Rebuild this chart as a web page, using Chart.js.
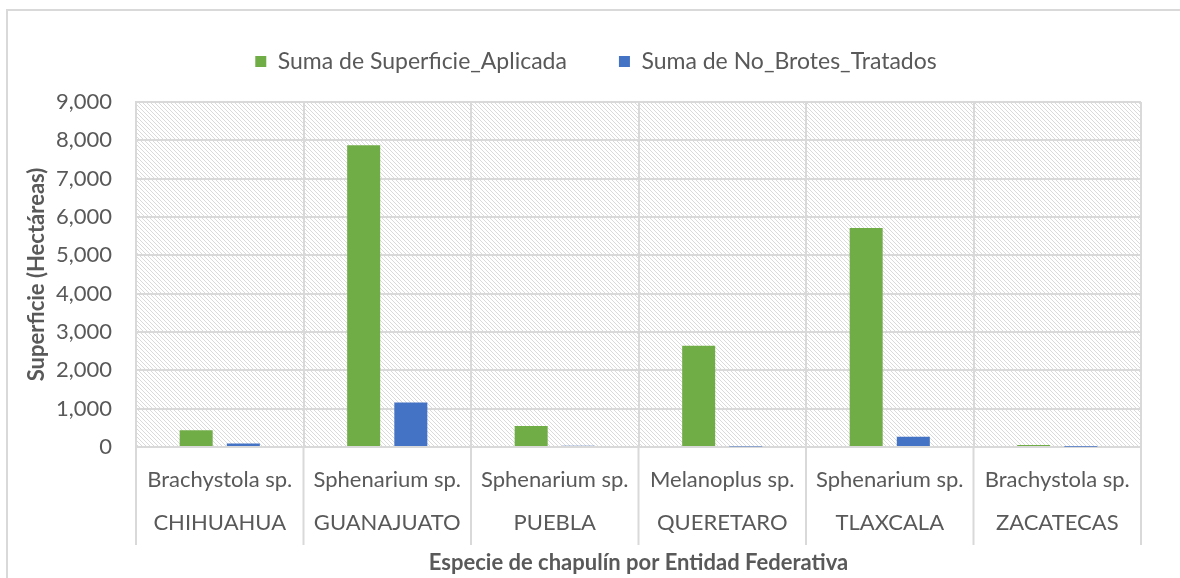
<!DOCTYPE html>
<html lang="es">
<head>
  <meta charset="UTF-8">
  <title>Superficie por Entidad Federativa</title>
  <script src="https://cdn.jsdelivr.net/npm/chart.js"></script>
  <style>
    body { margin: 0; background: #fff; }
    #wrap { width: 1180px; height: 578px; }
  </style>
</head>
<body>
  <div id="wrap"><canvas id="grafico" width="1180" height="578"></canvas></div>

  <script>
    // datos
    const entidades = ['CHIHUAHUA', 'GUANAJUATO', 'PUEBLA', 'QUERETARO', 'TLAXCALA', 'ZACATECAS'];
    const especies = ['Brachystola sp.', 'Sphenarium sp.', 'Sphenarium sp.', 'Melanoplus sp.', 'Sphenarium sp.', 'Brachystola sp.'];
    const superficieAplicada = [440, 7870, 545, 2640, 5715, 55];
    const brotesTratados = [90, 1160, 35, 12, 265, 6];
    const yTicks = [0, 1000, 2000, 3000, 4000, 5000, 6000, 7000, 8000, 9000];

    const FUENTE = 'Lato, "Open Sans", sans-serif';
    const GRIS = '#d9d9d9';
    const TEXTO = '#595959';

    // trama diagonal del fondo
    function crearTrama() {
      const c = document.createElement('canvas');
      c.width = 4; c.height = 4;
      const g = c.getContext('2d');
      g.fillStyle = '#fff';
      g.fillRect(0, 0, 4, 4);
      g.fillStyle = '#dadada';
      for (let i = 0; i < 4; i++) g.fillRect(i, i, 1, 1);
      return g.createPattern(c, 'repeat');
    }

    const fondo = {
      id: 'fondo',
      beforeInit(chart) {
        // ajuste del alto de la leyenda
        const fitOriginal = chart.legend.fit;
        chart.legend.fit = function () {
          fitOriginal.call(this);
          this.height += 19;
        };
      },
      afterLayout(chart) {
        // la leyenda va centrada en todo el recuadro, no en el area de trazado
        chart.legend.left += 18;
        chart.legend.right += 18;
      },
      beforeDraw(chart) {
        const { ctx, chartArea: a } = chart;
        ctx.save();
        ctx.strokeStyle = GRIS;
        ctx.lineWidth = 2;
        ctx.strokeRect(7, 10, 1300, 700);
        ctx.fillStyle = crearTrama();
        ctx.fillRect(a.left, a.top, a.right - a.left, a.bottom - a.top);
        ctx.restore();
      },
      afterDraw(chart) {
        // separadores de categorias bajo el eje
        const { ctx, chartArea: a } = chart;
        const x = chart.scales.x;
        const paso = x.getPixelForTick(1) - x.getPixelForTick(0);
        ctx.save();
        ctx.strokeStyle = GRIS;
        ctx.lineWidth = 2;
        for (let i = 0; i <= entidades.length; i++) {
          const px = i < entidades.length ? x.getPixelForTick(i) - paso / 2 : a.right;
          ctx.beginPath();
          ctx.moveTo(px, a.bottom);
          ctx.lineTo(px, a.bottom + 98);
          ctx.stroke();
        }
        ctx.restore();
      }
    };

    const ctx = document.getElementById('grafico').getContext('2d');
    new Chart(ctx, {
      type: 'bar',
      data: {
        labels: entidades.map((e, i) => [especies[i], e]),
        datasets: [
          {
            label: 'Suma de Superficie_Aplicada',
            data: superficieAplicada,
            backgroundColor: '#70ad47',
            categoryPercentage: 0.563,
            barPercentage: 0.7
          },
          {
            label: 'Suma de No_Brotes_Tratados',
            data: brotesTratados,
            backgroundColor: '#4472c4',
            categoryPercentage: 0.563,
            barPercentage: 0.7
          }
        ]
      },
      options: {
        responsive: false,
        animation: false,
        layout: { padding: { left: 15, right: 39, top: -2, bottom: 2 } },
        plugins: {
          legend: {
            position: 'top',
            labels: {
              boxWidth: 11,
              boxHeight: 11,
              padding: 52,
              color: TEXTO,
              font: { family: FUENTE, size: 23 }
            }
          },
          tooltip: { enabled: false }
        },
        scales: {
          x: {
            afterFit(scale) { scale.height = 129; },
            grid: { color: GRIS, lineWidth: 2, drawTicks: false, offset: true },
            border: { color: GRIS, width: 2 },
            ticks: {
              color: TEXTO,
              padding: 11,
              font: { family: FUENTE, size: 22, lineHeight: 1.955 }
            },
            title: {
              display: true,
              text: 'Especie de chapulín por Entidad Federativa',
              color: TEXTO,
              font: { family: FUENTE, size: 22, weight: 'bold' },
              padding: { top: 4, bottom: 0 }
            }
          },
          y: {
            min: 0,
            max: 9000,
            afterBuildTicks(scale) { scale.ticks = yTicks.map(v => ({ value: v })); },
            afterFit(scale) { scale.width = 121; },
            grid: { color: GRIS, lineWidth: 2, drawTicks: false },
            border: { color: GRIS, width: 2 },
            ticks: {
              color: TEXTO,
              padding: 24,
              font: { family: FUENTE, size: 22 },
              callback: v => v.toLocaleString('en-US')
            },
            title: {
              display: true,
              text: 'Superficie (Hectáreas)',
              color: TEXTO,
              font: { family: FUENTE, size: 22, weight: 'bold' },
              padding: { top: 9, bottom: 0 }
            }
          }
        }
      },
      plugins: [fondo]
    });
  </script>
</body>
</html>
